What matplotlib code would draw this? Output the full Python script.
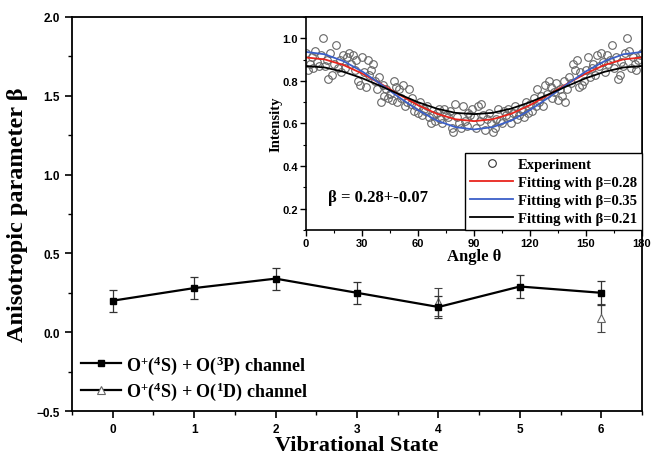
import matplotlib
matplotlib.use("Agg")
import matplotlib.pyplot as plt
from matplotlib.lines import Line2D
from matplotlib.ticker import MultipleLocator

plt.rcParams['mathtext.fontset'] = 'custom'
plt.rcParams['mathtext.rm'] = 'Liberation Serif:bold'
plt.rcParams['mathtext.it'] = 'Liberation Serif:bold'
plt.rcParams['mathtext.bf'] = 'Liberation Serif:bold'

# main panel: anisotropy parameter per vibrational state
states = [0, 1, 2, 3, 4, 5, 6]
beta_3p = [0.20, 0.28, 0.34, 0.25, 0.16, 0.29, 0.25]
err_3p = [0.07, 0.07, 0.07, 0.07, 0.07, 0.07, 0.077]
states_1d = [4, 6]
beta_1d = [0.19, 0.09]
err_1d = [0.09, 0.087]

# inset: angular distribution
exp_angle = list(range(0, 181))
exp_int = [
    0.93, 0.85, 0.88, 0.91, 0.86, 0.94, 0.89, 0.87, 0.92, 1.00,
    0.87, 0.90, 0.81, 0.93, 0.83, 0.88, 0.97, 0.86, 0.90, 0.84,
    0.92, 0.86, 0.91, 0.93, 0.88, 0.92, 0.85, 0.90, 0.80, 0.78,
    0.91, 0.84, 0.77, 0.90, 0.83, 0.85, 0.88, 0.80, 0.76, 0.82,
    0.70, 0.78, 0.73, 0.76, 0.72, 0.74, 0.71, 0.80, 0.77, 0.70,
    0.76, 0.72, 0.78, 0.68, 0.70, 0.76, 0.69, 0.72, 0.66, 0.68,
    0.65, 0.70, 0.64, 0.67, 0.66, 0.68, 0.63, 0.60, 0.64, 0.61,
    0.65, 0.67, 0.62, 0.60, 0.67, 0.64, 0.63, 0.66, 0.58, 0.56,
    0.69, 0.63, 0.60, 0.58, 0.68, 0.61, 0.59, 0.65, 0.64, 0.67,
    0.63, 0.58, 0.68, 0.61, 0.69, 0.64, 0.57, 0.62, 0.65, 0.60,
    0.56, 0.58, 0.62, 0.67, 0.61, 0.60, 0.66, 0.64, 0.67, 0.63,
    0.60, 0.65, 0.68, 0.62, 0.64, 0.67, 0.66, 0.63, 0.70, 0.65,
    0.69, 0.66, 0.72, 0.68, 0.76, 0.70, 0.73, 0.68, 0.78, 0.74,
    0.80, 0.77, 0.72, 0.75, 0.79, 0.71, 0.76, 0.73, 0.80, 0.70,
    0.76, 0.82, 0.79, 0.88, 0.85, 0.90, 0.77, 0.84, 0.78, 0.80,
    0.85, 0.91, 0.82, 0.86, 0.88, 0.83, 0.92, 0.87, 0.93, 0.89,
    0.84, 0.92, 0.88, 0.90, 0.97, 0.86, 0.91, 0.81, 0.83, 0.89,
    0.87, 0.93, 1.00, 0.94, 0.86, 0.91, 0.88, 0.85, 0.90, 0.92,
    0.93,
]
fit_angle = [0, 10, 20, 30, 40, 50, 60, 70, 80, 90,
             100, 110, 120, 130, 140, 150, 160, 170, 180]
fit_028 = [0.910, 0.901, 0.875, 0.835, 0.787, 0.735, 0.686, 0.646, 0.620, 0.611,
           0.620, 0.646, 0.686, 0.735, 0.787, 0.835, 0.875, 0.901, 0.910]
fit_035 = [0.936, 0.925, 0.893, 0.845, 0.785, 0.722, 0.663, 0.614, 0.583, 0.572,
           0.583, 0.614, 0.663, 0.722, 0.785, 0.845, 0.893, 0.925, 0.936]
fit_021 = [0.870, 0.863, 0.843, 0.813, 0.776, 0.737, 0.700, 0.670, 0.650, 0.644,
           0.650, 0.670, 0.700, 0.737, 0.776, 0.813, 0.843, 0.863, 0.870]

sans = 'Liberation Sans'
serif = 'Liberation Serif'

fig = plt.figure(figsize=(6.51, 4.6), dpi=100)
ax = fig.add_axes([0.1106, 0.1043, 0.8756, 0.8566])

ax.errorbar(states, beta_3p, yerr=err_3p, color='black', lw=1.6, marker='s', ms=5,
            ecolor='#333333', elinewidth=0.9, capsize=3, capthick=0.9, zorder=3)
ax.errorbar(states_1d, beta_1d, yerr=err_1d, ls='none', marker='^', ms=6,
            mfc='white', mec='#666666', mew=0.8, ecolor='#444444',
            elinewidth=0.9, capsize=3, capthick=0.9, zorder=2)

ax.set_xlim(-0.5, 6.5)
ax.set_ylim(-0.5, 2.0)
ax.xaxis.set_major_locator(MultipleLocator(1))
ax.xaxis.set_minor_locator(MultipleLocator(0.5))
ax.yaxis.set_major_locator(MultipleLocator(0.5))
ax.yaxis.set_minor_locator(MultipleLocator(0.25))
ax.tick_params(which='major', length=5, width=1.2, direction='out')
ax.tick_params(which='minor', length=3, width=1.0, direction='out')
for lab in ax.get_xticklabels() + ax.get_yticklabels():
    lab.set_fontfamily(sans)
    lab.set_fontweight('bold')
    lab.set_fontsize(8.5)
for s in ax.spines.values():
    s.set_linewidth(1.3)
ax.set_xlabel('Vibrational State', family=serif, weight='bold', fontsize=16, labelpad=0)
ax.set_ylabel('Anisotropic parameter β', family=serif, weight='bold', fontsize=17.5, labelpad=6)

h1 = Line2D([], [], color='black', lw=1.6, marker='s', ms=5)
h2 = Line2D([], [], color='black', lw=1.6, marker='^', ms=6, mfc='white', mec='#666666', mew=0.8)
ax.legend([h1, h2],
          [r'O$^{+}$($^{4}$S) + O($^{3}$P) channel', r'O$^{+}$($^{4}$S) + O($^{1}$D) channel'],
          loc='lower left', frameon=False, handlelength=2.2, handletextpad=0.3,
          labelspacing=0.2, borderaxespad=0.1,
          prop={'family': serif, 'weight': 'bold', 'size': 13})

# inset
ins = fig.add_axes([0.470, 0.4978, 0.5162, 0.4631])
ins.set_facecolor('white')
ins.plot(exp_angle, exp_int, ls='none', marker='o', ms=5.5, mfc='none', mec='#666666', mew=0.8)
ins.plot(fit_angle, fit_028, color='#e8241c', lw=1.3)
ins.plot(fit_angle, fit_035, color='#3b5fc8', lw=1.3)
ins.plot(fit_angle, fit_021, color='black', lw=1.3)
ins.set_xlim(0, 180)
ins.set_ylim(0.1, 1.1)
ins.xaxis.set_major_locator(MultipleLocator(30))
ins.xaxis.set_minor_locator(MultipleLocator(15))
ins.yaxis.set_major_locator(MultipleLocator(0.2))
ins.yaxis.set_minor_locator(MultipleLocator(0.1))
ins.set_yticks([0.2, 0.4, 0.6, 0.8, 1.0])
ins.tick_params(which='major', length=4, width=1.0, direction='out', pad=2)
ins.tick_params(which='minor', length=2, width=0.8, direction='out')
for lab in ins.get_xticklabels() + ins.get_yticklabels():
    lab.set_fontfamily(sans)
    lab.set_fontweight('bold')
    lab.set_fontsize(8)
for s in ins.spines.values():
    s.set_linewidth(1.2)
ins.set_xlabel('Angle θ', family=serif, weight='bold', fontsize=12, labelpad=0)
ins.set_ylabel('Intensity', family=serif, weight='bold', fontsize=10.5, labelpad=0)
ins.text(0.066, 0.155, 'β = 0.28+-0.07', transform=ins.transAxes, va='center',
         family=serif, weight='bold', fontsize=12)

lg = ins.legend([Line2D([], [], ls='none', marker='o', ms=5.5, mfc='none', mec='#333333', mew=0.8),
                 Line2D([], [], color='#e8241c', lw=1.3),
                 Line2D([], [], color='#3b5fc8', lw=1.3),
                 Line2D([], [], color='black', lw=1.3)],
                ['Experiment', 'Fitting with β=0.28', 'Fitting with β=0.35', 'Fitting with β=0.21'],
                loc='lower right', borderaxespad=0, fancybox=False, framealpha=1,
                edgecolor='black', handlelength=3.0, handletextpad=0.3,
                labelspacing=0.32, borderpad=0.35,
                prop={'family': serif, 'weight': 'bold', 'size': 10.5})
lg.get_frame().set_linewidth(1.0)

fig.savefig('out.png', dpi=100)
